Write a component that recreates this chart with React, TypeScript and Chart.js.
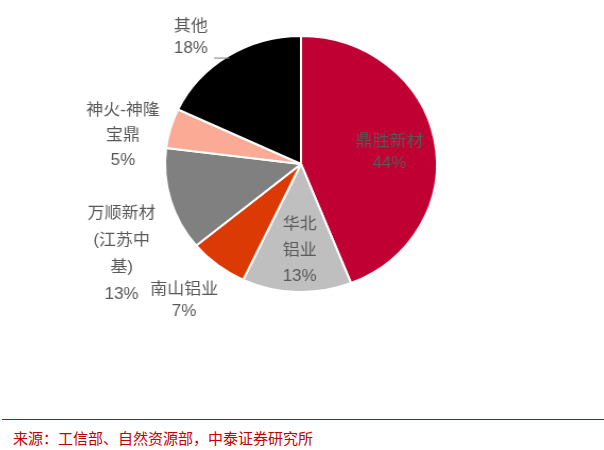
import React, { useEffect, useRef } from "react";
import { Chart, registerables } from "chart.js";

Chart.register(...registerables);

const companies = ["鼎胜新材", "华北铝业", "南山铝业", "万顺新材(江苏中基)", "神火-神隆宝鼎", "其他"];
const shares = [44, 13, 7, 13, 5, 18];
const labelLines = [
  ["鼎胜新材", "44%"],
  ["华北", "铝业", "13%"],
  ["南山铝业", "7%"],
  ["万顺新材", "(江苏中", "基)", "13%"],
  ["神火-神隆", "宝鼎", "5%"],
  ["其他", "18%"],
];
const sliceColors = ["#C00032", "#BFBFBF", "#DC3A04", "#808080", "#FBAA95", "#000000"];
const sourceText = "来源：工信部、自然资源部，中泰证券研究所";

// label placement relative to pie centre, in units of the radius
const labelPlace = [
  { dx: 0.65, dy: -0.09, gap: 22 },
  { dx: -0.01, dy: 0.68, gap: 26 },
  { dx: -0.86, dy: 1.07, gap: 22 },
  { dx: -1.32, dy: 0.705, gap: 27 },
  { dx: -1.31, dy: -0.225, gap: 25 },
  { dx: -0.81, dy: -0.99, gap: 22 },
];

const labelPlugin = {
  id: "pieLabels",
  afterDatasetsDraw(chart: any) {
    const { ctx } = chart;
    const meta = chart.getDatasetMeta(0);
    const arcs = meta.data;
    if (!arcs.length) return;
    const cx = arcs[0].x;
    const cy = arcs[0].y;
    const R = arcs[0].outerRadius;
    ctx.save();
    ctx.font = '16px "Liberation Sans", "Noto Sans CJK SC", sans-serif';
    ctx.fillStyle = "#595959";
    ctx.textAlign = "center";
    ctx.textBaseline = "middle";
    labelLines.forEach((lines, i) => {
      const p = labelPlace[i];
      const x = cx + p.dx * R;
      const y = cy + p.dy * R;
      const top = y - ((lines.length - 1) * p.gap) / 2;
      lines.forEach((t, k) => ctx.fillText(t, x, top + k * p.gap));
    });
    // leader line for 其他
    const a = arcs[5];
    const mid = (a.startAngle + a.endAngle) / 2;
    const ex = cx + Math.cos(mid) * R * 0.98;
    const ey = cy + Math.sin(mid) * R * 0.98;
    ctx.strokeStyle = "#7F7F7F";
    ctx.lineWidth = 1;
    ctx.beginPath();
    ctx.moveTo(cx - 0.64 * R, ey);
    ctx.lineTo(ex, ey);
    ctx.stroke();
    ctx.restore();
  },
};

export default function App() {
  const ref = useRef<HTMLCanvasElement>(null);
  useEffect(() => {
    if (!ref.current) return;
    const chart = new Chart(ref.current, {
      type: "pie",
      data: {
        labels: companies,
        datasets: [
          {
            data: shares,
            backgroundColor: sliceColors,
            borderColor: "#FFFFFF",
            borderWidth: 2,
          },
        ],
      },
      options: {
        responsive: false,
        animation: false,
        layout: { padding: { top: 35, bottom: 117, left: 172, right: 174 } },
        plugins: { legend: { display: false }, tooltip: { enabled: false } },
      },
      plugins: [labelPlugin],
    });
    return () => chart.destroy();
  }, []);
  return (
    <div style={{ position: "fixed", left: 0, top: 0, width: 604, height: 450, background: "#fff", overflow: "hidden" }}>
      <canvas
        ref={ref}
        width={604}
        height={410}
        style={{ position: "absolute", left: 0, top: 0, transform: "scaleX(1.062)", transformOrigin: "301px 0px" }}
      />
      <div style={{ position: "absolute", left: 2, right: 0, top: 419, height: 1, background: "#C00000" }} />
      <div
        style={{
          position: "absolute",
          left: 13,
          top: 428,
          fontFamily: '"Noto Sans CJK SC", sans-serif',
          fontSize: 15,
          lineHeight: "20px",
          color: "#C00000",
          whiteSpace: "nowrap",
        }}
      >
        {sourceText}
      </div>
    </div>
  );
}
